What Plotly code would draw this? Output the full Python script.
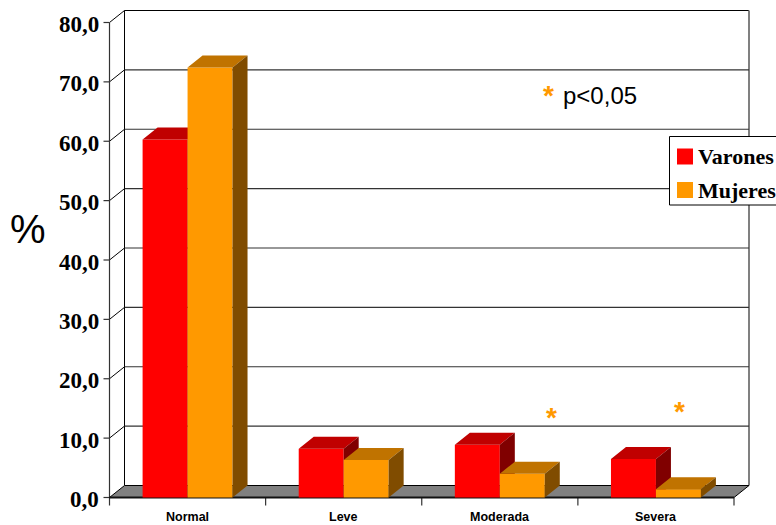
import plotly.graph_objects as go

# ---- data -------------------------------------------------------------
categories = ["Normal", "Leve", "Moderada", "Severa"]
varones = [60.3, 8.2, 8.9, 6.5]
mujeres = [72.4, 6.3, 4.0, 1.4]
series_names = ["Varones", "Mujeres"]

tick_values = [0, 10, 20, 30, 40, 50, 60, 70, 80]
tick_labels = ["0,0", "10,0", "20,0", "30,0", "40,0", "50,0", "60,0", "70,0", "80,0"]

# significance markers (category position, height in %)
sig_x = [2.83, 3.65]
sig_y = [14.1, 15.2]
sig_note = "p&lt;0,05"

# ---- geometry / styling -------------------------------------------------
W, H = 776, 525
X_PX = 156.125      # pixels per category
Y_PX = 5.9375       # pixels per percentage point
X_ORIGIN = 109.5    # pixel column of the front value axis
Y_ORIGIN = 497.5    # pixel row of the 0 line
x_range = [-X_ORIGIN / X_PX, (W - X_ORIGIN) / X_PX]
y_range = [-(H - Y_ORIGIN) / Y_PX, Y_ORIGIN / Y_PX]

DX = 15 / X_PX      # 3-D depth, horizontal part
DY = 12 / Y_PX      # 3-D depth, vertical part
BW = 0.288          # bar width in category units
N = len(categories)
YMAX = tick_values[-1]

RED = dict(front="#FF0000", top="#C00000", side="#800000")
ORANGE = dict(front="#FF9900", top="#C07300", side="#804C00")
SERIF = "Liberation Serif, Times New Roman, serif"
SANS = "Liberation Sans, Arial, sans-serif"


def px(x, y):
    """pixel position -> paper coordinates"""
    return x / W, 1 - y / H


def line(x0, y0, x1, y1, color="#222", width=1):
    return dict(type="line", xref="x", yref="y", x0=x0, y0=y0, x1=x1, y1=y1,
                line=dict(color=color, width=width), layer="below")


shapes = []
# back wall and side wall frame
shapes.append(line(DX, YMAX + DY, N + DX, YMAX + DY, "#000", 1))
shapes.append(line(DX, DY, DX, YMAX + DY, "#000", 1))
shapes.append(line(N + DX, DY, N + DX, YMAX + DY, "#808080", 2))
# gridlines on the back wall + diagonals on the side wall
for v in tick_values[1:]:
    if v < YMAX:
        shapes.append(line(DX, v + DY, N + DX, v + DY, "#333", 1.2))
    shapes.append(line(0, v, DX, v + DY, "#000", 1))
# front value axis and its ticks
shapes.append(line(0, 0, 0, YMAX, "#333", 1.2))
for v in tick_values:
    shapes.append(line(-6 / X_PX, v, 0, v, "#333", 1.2))
# category ticks below the floor
for k in range(N + 1):
    shapes.append(line(k, 0, k, -8 / Y_PX, "#333", 1.2))

fig = go.Figure()

# floor
fig.add_trace(go.Scatter(
    x=[0, N, N + DX, DX, 0], y=[0, 0, DY, DY, 0],
    mode="lines", fill="toself", fillcolor="#808080",
    line=dict(color="#000", width=1), hoverinfo="skip"))
fig.add_trace(go.Scatter(
    x=[0, N], y=[0, 0], mode="lines",
    line=dict(color="#111", width=2.2), hoverinfo="skip"))


def bar_faces(vals, offset):
    fx, fy, tx, ty, sx, sy = [], [], [], [], [], []
    for i, v in enumerate(vals):
        xl = i + 0.5 + offset
        xr = xl + BW
        fx += [xl, xr, xr, xl, xl, None]
        fy += [0, 0, v, v, 0, None]
        tx += [xl, xr, xr + DX, xl + DX, xl, None]
        ty += [v, v, v + DY, v + DY, v, None]
        sx += [xr, xr + DX, xr + DX, xr, xr, None]
        sy += [0, DY, v + DY, v, 0, None]
    return (fx, fy), (tx, ty), (sx, sy)


for vals, offset, col, name in [(varones, -BW, RED, series_names[0]),
                                (mujeres, 0.0, ORANGE, series_names[1])]:
    front, top, side = bar_faces(vals, offset)
    for (xs, ys), c in [(front, col["front"]), (top, col["top"]), (side, col["side"])]:
        fig.add_trace(go.Scatter(
            x=xs, y=ys, mode="lines", fill="toself", fillcolor=c,
            line=dict(width=0, color=c), name=name, hoverinfo="skip"))

annotations = []
# value axis labels
for v, lab in zip(tick_values, tick_labels):
    annotations.append(dict(
        x=0, y=v, xref="x", yref="y", text="<b>%s</b>" % lab, showarrow=False,
        xanchor="right", yanchor="middle", xshift=-9, yshift=-2,
        font=dict(family=SERIF, size=23, color="#000")))
# category labels
for i, cat in enumerate(categories):
    annotations.append(dict(
        x=i + 0.5, y=0, xref="x", yref="y", text="<b>%s</b>" % cat,
        showarrow=False, xanchor="center", yanchor="middle", yshift=-19,
        font=dict(family=SANS, size=12.5, color="#000")))
# axis title
ax, ay = px(28, 229)
annotations.append(dict(x=ax, y=ay, xref="paper", yref="paper", text="%",
                        showarrow=False, xanchor="center", yanchor="middle",
                        font=dict(family=SANS, size=40, color="#000")))
# significance stars
for sx_, sy_ in zip(sig_x, sig_y):
    annotations.append(dict(x=sx_, y=sy_, xref="x", yref="y", text="<b>*</b>",
                            showarrow=False, xanchor="center", yanchor="middle",
                            yshift=-4,
                            font=dict(family=SANS, size=28, color="#FF9900")))
# note
nx, ny = px(548, 92)
annotations.append(dict(x=nx, y=ny, xref="paper", yref="paper", text="<b>*</b>",
                        showarrow=False, xanchor="center", yanchor="middle",
                        yshift=-4,
                        font=dict(family=SANS, size=28, color="#FF9900")))
nx, ny = px(561, 96)
annotations.append(dict(x=nx, y=ny, xref="paper", yref="paper", text=sig_note,
                        showarrow=False, xanchor="left", yanchor="middle",
                        font=dict(family=SANS, size=24, color="#000")))

# legend box
lx0, ly0 = px(669.5, 136.5)
lx1, ly1 = px(800, 205)
shapes.append(dict(type="rect", xref="paper", yref="paper", x0=lx0, y0=ly1,
                   x1=lx1, y1=ly0, fillcolor="#FFFFFF",
                   line=dict(color="#000", width=1), layer="above"))
for k, (name, col) in enumerate(zip(series_names, [RED, ORANGE])):
    cy = 156.5 + k * 33.5
    qx0, qy0 = px(677, cy - 8)
    qx1, qy1 = px(693, cy + 8)
    shapes.append(dict(type="rect", xref="paper", yref="paper", x0=qx0, y0=qy1,
                       x1=qx1, y1=qy0, fillcolor=col["front"],
                       line=dict(width=0), layer="above"))
    tx, ty = px(696, cy)
    annotations.append(dict(x=tx, y=ty, xref="paper", yref="paper",
                            text="<b>%s</b>" % name, showarrow=False,
                            xanchor="left", yanchor="middle",
                            font=dict(family=SERIF, size=22, color="#000")))

fig.update_layout(
    width=W, height=H,
    margin=dict(l=0, r=0, t=0, b=0, autoexpand=False),
    paper_bgcolor="#FFFFFF", plot_bgcolor="#FFFFFF",
    showlegend=False,
    xaxis=dict(visible=False, range=x_range, fixedrange=True),
    yaxis=dict(visible=False, range=y_range, fixedrange=True),
    shapes=shapes, annotations=annotations,
)

fig.write_html("out.html")
